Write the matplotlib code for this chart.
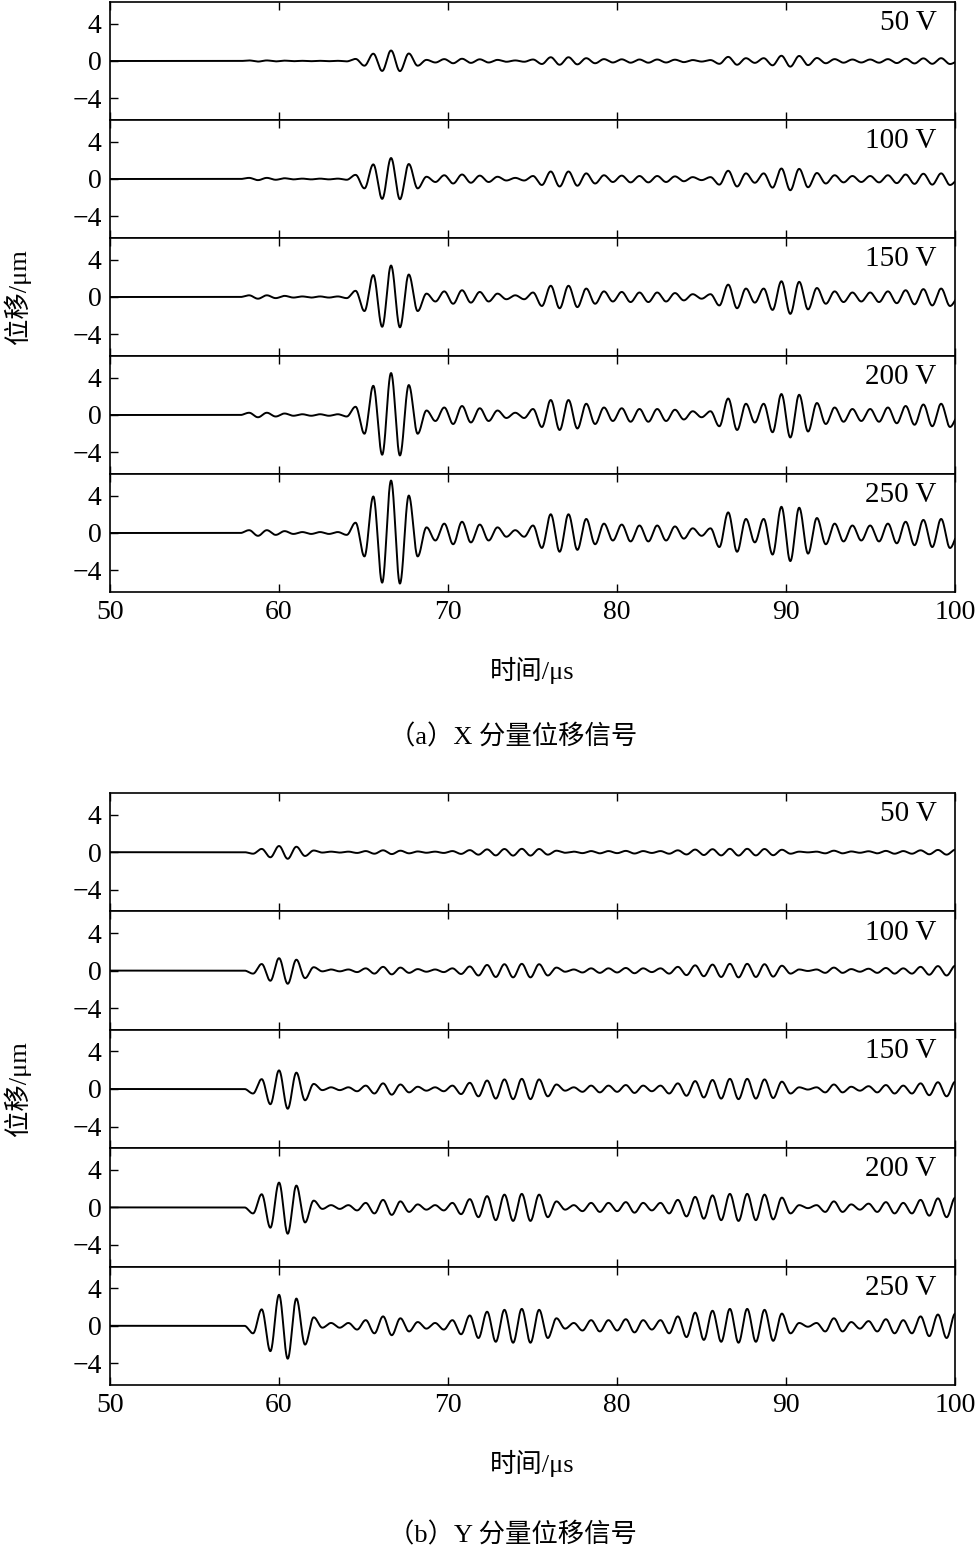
import numpy as np
import matplotlib
matplotlib.use("Agg")
import matplotlib.pyplot as plt

plt.rcParams['font.family'] = ['Liberation Serif', 'Noto Sans CJK SC', 'DejaVu Sans']
plt.rcParams['axes.unicode_minus'] = True

voltages = [50, 100, 150, 200, 250]
labels = ["50 V", "100 V", "150 V", "200 V", "250 V"]

# extrema of the 250 V signal (alternating sign, + first)
x_t0, x_half = 58.23, 0.525
x_amp250 = [0.3, 0.3, 0.3, 0.2, 0.2, 0.1, 0.1, 0.1, 0.1, 0.1, 0.1, 0.2,
            1.1, 2.5, 3.9, 5.3, 5.6, 5.4, 4.0, 2.5, 0.6,
            0.8, 1.0, 1.2, 1.2, 1.0, 0.9, 0.8, 0.6, 0.4, 0.3, 0.4,
            0.8, 1.6, 2.0, 2.0, 2.0, 1.8, 1.5, 1.2, 1.0,
            0.8, 0.9, 0.9, 0.8, 0.9, 0.8, 0.8, 0.7,
            0.6, 0.5, 0.3, 0.5,
            1.5, 2.2, 2.0, 1.5, 1.0,
            1.5, 2.3, 2.8, 3.0, 2.7, 2.2, 1.6,
            1.2, 1.0, 0.9, 0.8, 0.8, 0.8, 0.9, 1.0, 1.1, 1.2, 1.3, 1.4, 1.5, 1.5, 1.6]

y_t0, y_half = 57.95, 0.513
y_amp250 = [0.0, 0.8, 1.75, 2.7, 3.3, 3.5, 2.9, 2.0, 0.9, 0.2,
            0.3, 0.2, 0.3, 0.4, 0.6,
            0.8, 1.0, 1.0, 0.8, 0.6, 0.4,
            0.3, 0.3, 0.4,
            0.6, 0.9, 1.1, 1.3, 1.5, 1.7, 1.7, 1.8, 1.8, 1.8, 1.7,
            1.3, 0.8, 0.3,
            0.3, 0.5, 0.6, 0.6, 0.6, 0.5, 0.7, 0.7, 0.6,
            0.4, 0.6, 0.8,
            1.0, 1.2, 1.4, 1.5, 1.6, 1.7, 1.8, 1.8, 1.8, 1.7, 1.7, 1.6, 1.3,
            0.8, 0.3, 0.1, 0.3,
            0.6, 0.8, 0.6, 0.4, 0.3, 0.5,
            0.6, 0.7, 0.8, 0.6, 0.8, 1.0, 1.1, 1.2, 1.3, 1.3, 1.4, 1.6]


def waveform(t0, half, amps, scale):
    n = len(amps)
    te = t0 + half * np.arange(n)
    ve = np.array(amps) * scale * np.where(np.arange(n) % 2 == 0, 1, -1)
    te = np.concatenate([[50, t0 - half], te, [te[-1] + half]])
    ve = np.concatenate([[0, 0], ve, [0]])
    t = np.linspace(50, 100, 6000)
    idx = np.clip(np.searchsorted(te, t) - 1, 0, len(te) - 2)
    f = (t - te[idx]) / (te[idx + 1] - te[idx])
    w = (1 - np.cos(np.pi * np.clip(f, 0, 1))) / 2
    return t, ve[idx] + (ve[idx + 1] - ve[idx]) * w


W, H = 979, 1554
fig = plt.figure(figsize=(W / 100, H / 100), dpi=100)
left, right = 110 / W, 955 / W


def group(top_px, bottom_px, t0, half, amps, caption, cap_y):
    ph = (bottom_px - top_px) / 5
    for i, v in enumerate(voltages):
        y0 = top_px + i * ph
        ax = fig.add_axes([left, 1 - (y0 + ph) / H, right - left, ph / H])
        t, s = waveform(t0, half, amps, v / 250)
        ax.plot(t, s, color='black', lw=1.4)
        ax.set_xlim(50, 100)
        ax.set_ylim(-6.3, 6.3)
        ax.set_yticks([-4, 0, 4])
        ax.set_yticklabels(['\u22124', '0', '4'])
        ax.set_xticks([50, 60, 70, 80, 90, 100])
        ax.tick_params(direction='in', top=True, labelsize=20, length=6, width=1, pad=6)
        if i < 4:
            ax.tick_params(labelbottom=False)
        for sp in ax.spines.values():
            sp.set_linewidth(1.2)
        ax.text(0.978, 0.93, labels[i], transform=ax.transAxes, ha='right', va='top', fontsize=21)
    mid = 1 - (top_px + bottom_px) / 2 / H
    fig.text(17 / W, mid, '位移/μm', rotation=90, ha='center', va='center', fontsize=19)
    fig.text((left + right) / 2, 1 - (bottom_px + 78) / H, '时间/μs', ha='center', va='center', fontsize=19)
    fig.text(0.5 * (left + right) - 0.02, 1 - cap_y / H, caption, ha='center', va='center', fontsize=19)


group(2, 592, x_t0, x_half, x_amp250, '（a）X 分量位移信号', 737)
group(793, 1385, y_t0, y_half, y_amp250, '（b）Y 分量位移信号', 1535)

fig.savefig('out.png', dpi=100)
